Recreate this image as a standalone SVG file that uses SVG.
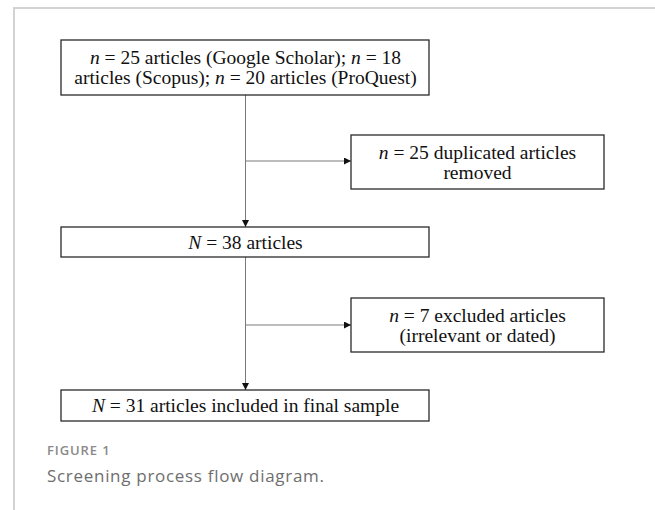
<svg xmlns="http://www.w3.org/2000/svg" width="655" height="510" viewBox="0 0 655 510">
<defs>
<style>
.frame{stroke:#d3d3d3;stroke-width:2;fill:none}
.box{fill:#fff;stroke:#2a2a2a;stroke-width:1.3}
.t{font-family:"Liberation Serif","Times New Roman",serif;font-size:19.5px;fill:#111;text-anchor:middle}
.i{font-style:italic}
.conn{stroke:#7a7a7a;stroke-width:1;fill:none}
.fig{font-family:"Open Sans","Noto Sans",sans-serif;font-size:13px;font-weight:600;fill:#8a8a8a;letter-spacing:0.9px}
.cap{font-family:"Open Sans","Noto Sans",sans-serif;font-size:17px;fill:#6e6e6e;letter-spacing:0.7px}
</style>
<marker id="arr" viewBox="0 0 10 10" refX="10" refY="5" markerWidth="7" markerHeight="7" markerUnits="userSpaceOnUse" orient="auto">
<path d="M0,0 L10,5 L0,10 z" fill="#111"/>
</marker>
</defs>
<rect width="655" height="510" fill="#fff"/>
<path class="frame" d="M14,510 V8 H655"/>
<g id="connectors">
<line class="conn" x1="245.5" y1="95" x2="245.5" y2="227" marker-end="url(#arr)"/>
<line class="conn" x1="245.5" y1="161" x2="351" y2="161" marker-end="url(#arr)"/>
<line class="conn" x1="245.5" y1="257" x2="245.5" y2="390" marker-end="url(#arr)"/>
<line class="conn" x1="245.5" y1="325" x2="351" y2="325" marker-end="url(#arr)"/>
</g>
<g id="n1">
<rect class="box" x="61" y="40" width="368" height="55"/>
<text class="t" x="245.5" y="64"><tspan class="i">n</tspan> = 25 articles (Google Scholar); <tspan class="i">n</tspan> = 18</text>
<text class="t" x="245.5" y="84">articles (Scopus); <tspan class="i">n</tspan> = 20 articles (ProQuest)</text>
</g>
<g id="n2">
<rect class="box" x="351" y="135" width="253" height="54"/>
<text class="t" x="477.5" y="158.5"><tspan class="i">n</tspan> = 25 duplicated articles</text>
<text class="t" x="477.5" y="178.5">removed</text>
</g>
<g id="n3">
<rect class="box" x="61" y="227" width="368" height="30"/>
<text class="t" x="245.5" y="248.5"><tspan class="i">N</tspan> = 38 articles</text>
</g>
<g id="n4">
<rect class="box" x="351" y="298" width="253" height="54"/>
<text class="t" x="477.5" y="321.5"><tspan class="i">n</tspan> = 7 excluded articles</text>
<text class="t" x="477.5" y="341.5">(irrelevant or dated)</text>
</g>
<g id="n5">
<rect class="box" x="61" y="390" width="368" height="31"/>
<text class="t" x="245.5" y="412"><tspan class="i">N</tspan> = 31 articles included in final sample</text>
</g>
<text class="fig" x="47" y="455">FIGURE 1</text>
<text class="cap" x="47" y="482">Screening process flow diagram.</text>
</svg>
